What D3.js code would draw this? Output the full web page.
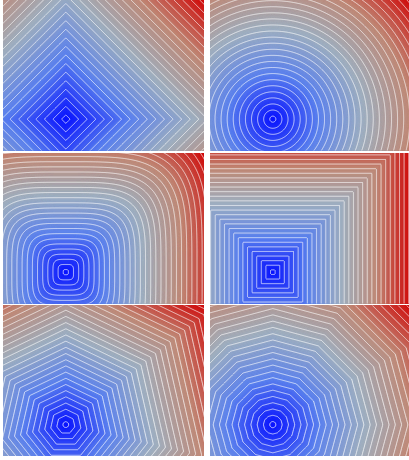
<!DOCTYPE html>
<html>
<head>
<meta charset="utf-8">
<script src="https://cdn.jsdelivr.net/npm/d3@7"></script>
<style>
  body { margin: 0; background: #fff; }
</style>
</head>
<body>
<div id="chart"></div>
<script>
// one panel per norm, row by row
var panelNames   = ["L1", "L2", "L4", "Linf", "heptagon", "dodecagon"];
var normP        = [1, 2, 4, Infinity, 0, 0];
var polygonSides = [0, 0, 0, 0, 7, 12];

// data window shown in every panel, the origin sits lower left
var xDomain = [-1, 2.2],
    yDomain = [-0.5, 1.9];

var lineLevels = 30;   // white contour lines
var fillLevels = 140;  // fine bands for the smooth background
var colorStops = ["#0a14ff", "#5c82ee", "#a0b0c0", "#c08a78", "#d20a0a"];

var width = 409, height = 460;
var panelW = 201, panelH = 150.5;
var colX = [3, 210], rowY = [0, 153, 305.5];
var pad = 3;  // extra grid cells outside each panel (clipped away)

var svg = d3.select("#chart")
  .append("svg")
    .attr("width", width)
    .attr("height", height);

var x = d3.scaleLinear().domain(xDomain).range([0, panelW]);
var y = d3.scaleLinear().domain(yDomain).range([panelH, 0]);

var color = d3.scaleLinear()
  .domain(d3.range(colorStops.length).map(function(i) { return i / (colorStops.length - 1); }))
  .range(colorStops)
  .clamp(true);

function norm(k, px, py) {
  var n = polygonSides[k];
  if (n) {
    var m = -Infinity;
    for (var i = 0; i < n; i++) {
      var a = Math.PI / 2 + (2 * i + 1) * Math.PI / n;
      m = Math.max(m, px * Math.cos(a) + py * Math.sin(a));
    }
    return m;
  }
  var p = normP[k];
  if (p === Infinity) return Math.max(Math.abs(px), Math.abs(py));
  return Math.pow(Math.pow(Math.abs(px), p) + Math.pow(Math.abs(py), p), 1 / p);
}

var nx = Math.ceil(panelW) + 2 * pad,
    ny = Math.ceil(panelH) + 2 * pad;

var path = d3.geoPath(d3.geoTransform({
  point: function(gx, gy) { this.stream.point(gx - pad, gy - pad); }
}));

var defs = svg.append("defs");
defs.append("clipPath").attr("id", "panelClip")
  .append("rect").attr("width", panelW).attr("height", panelH);

panelNames.forEach(function(name, k) {
  var g = svg.append("g")
    .attr("transform", "translate(" + colX[k % 2] + "," + rowY[Math.floor(k / 2)] + ")")
    .attr("clip-path", "url(#panelClip)");

  var values = new Array(nx * ny);
  for (var j = 0; j < ny; j++) {
    for (var i = 0; i < nx; i++) {
      values[j * nx + i] = norm(k, x.invert(i + 0.5 - pad), y.invert(j + 0.5 - pad));
    }
  }

  // the largest value in the window is at a corner
  var vmax = d3.max([
    norm(k, xDomain[0], yDomain[0]), norm(k, xDomain[1], yDomain[0]),
    norm(k, xDomain[0], yDomain[1]), norm(k, xDomain[1], yDomain[1])
  ]);

  g.append("rect")
    .attr("width", panelW)
    .attr("height", panelH)
    .attr("fill", color(0));

  var fillThresholds = d3.range(1, fillLevels + 4).map(function(i) { return i * vmax / fillLevels; });
  var bands = d3.contours().size([nx, ny]).thresholds(fillThresholds)(values);

  g.selectAll("path.band")
    .data(bands)
    .enter().append("path")
      .attr("class", "band")
      .attr("d", path)
      .attr("fill", function(d) { return color((d.value + 0.5 * vmax / fillLevels) / vmax); })
      .attr("stroke", function(d) { return color((d.value + 0.5 * vmax / fillLevels) / vmax); })
      .attr("stroke-width", 0.3);

  var lineThresholds = d3.range(lineLevels).map(function(i) { return (i + 0.5) * vmax / lineLevels; });
  var lines = d3.contours().size([nx, ny]).thresholds(lineThresholds)(values);

  g.selectAll("path.level")
    .data(lines)
    .enter().append("path")
      .attr("class", "level")
      .attr("d", path)
      .attr("fill", "none")
      .attr("stroke", "#fff")
      .attr("stroke-opacity", 0.7)
      .attr("stroke-width", 1);
});
</script>
</body>
</html>
